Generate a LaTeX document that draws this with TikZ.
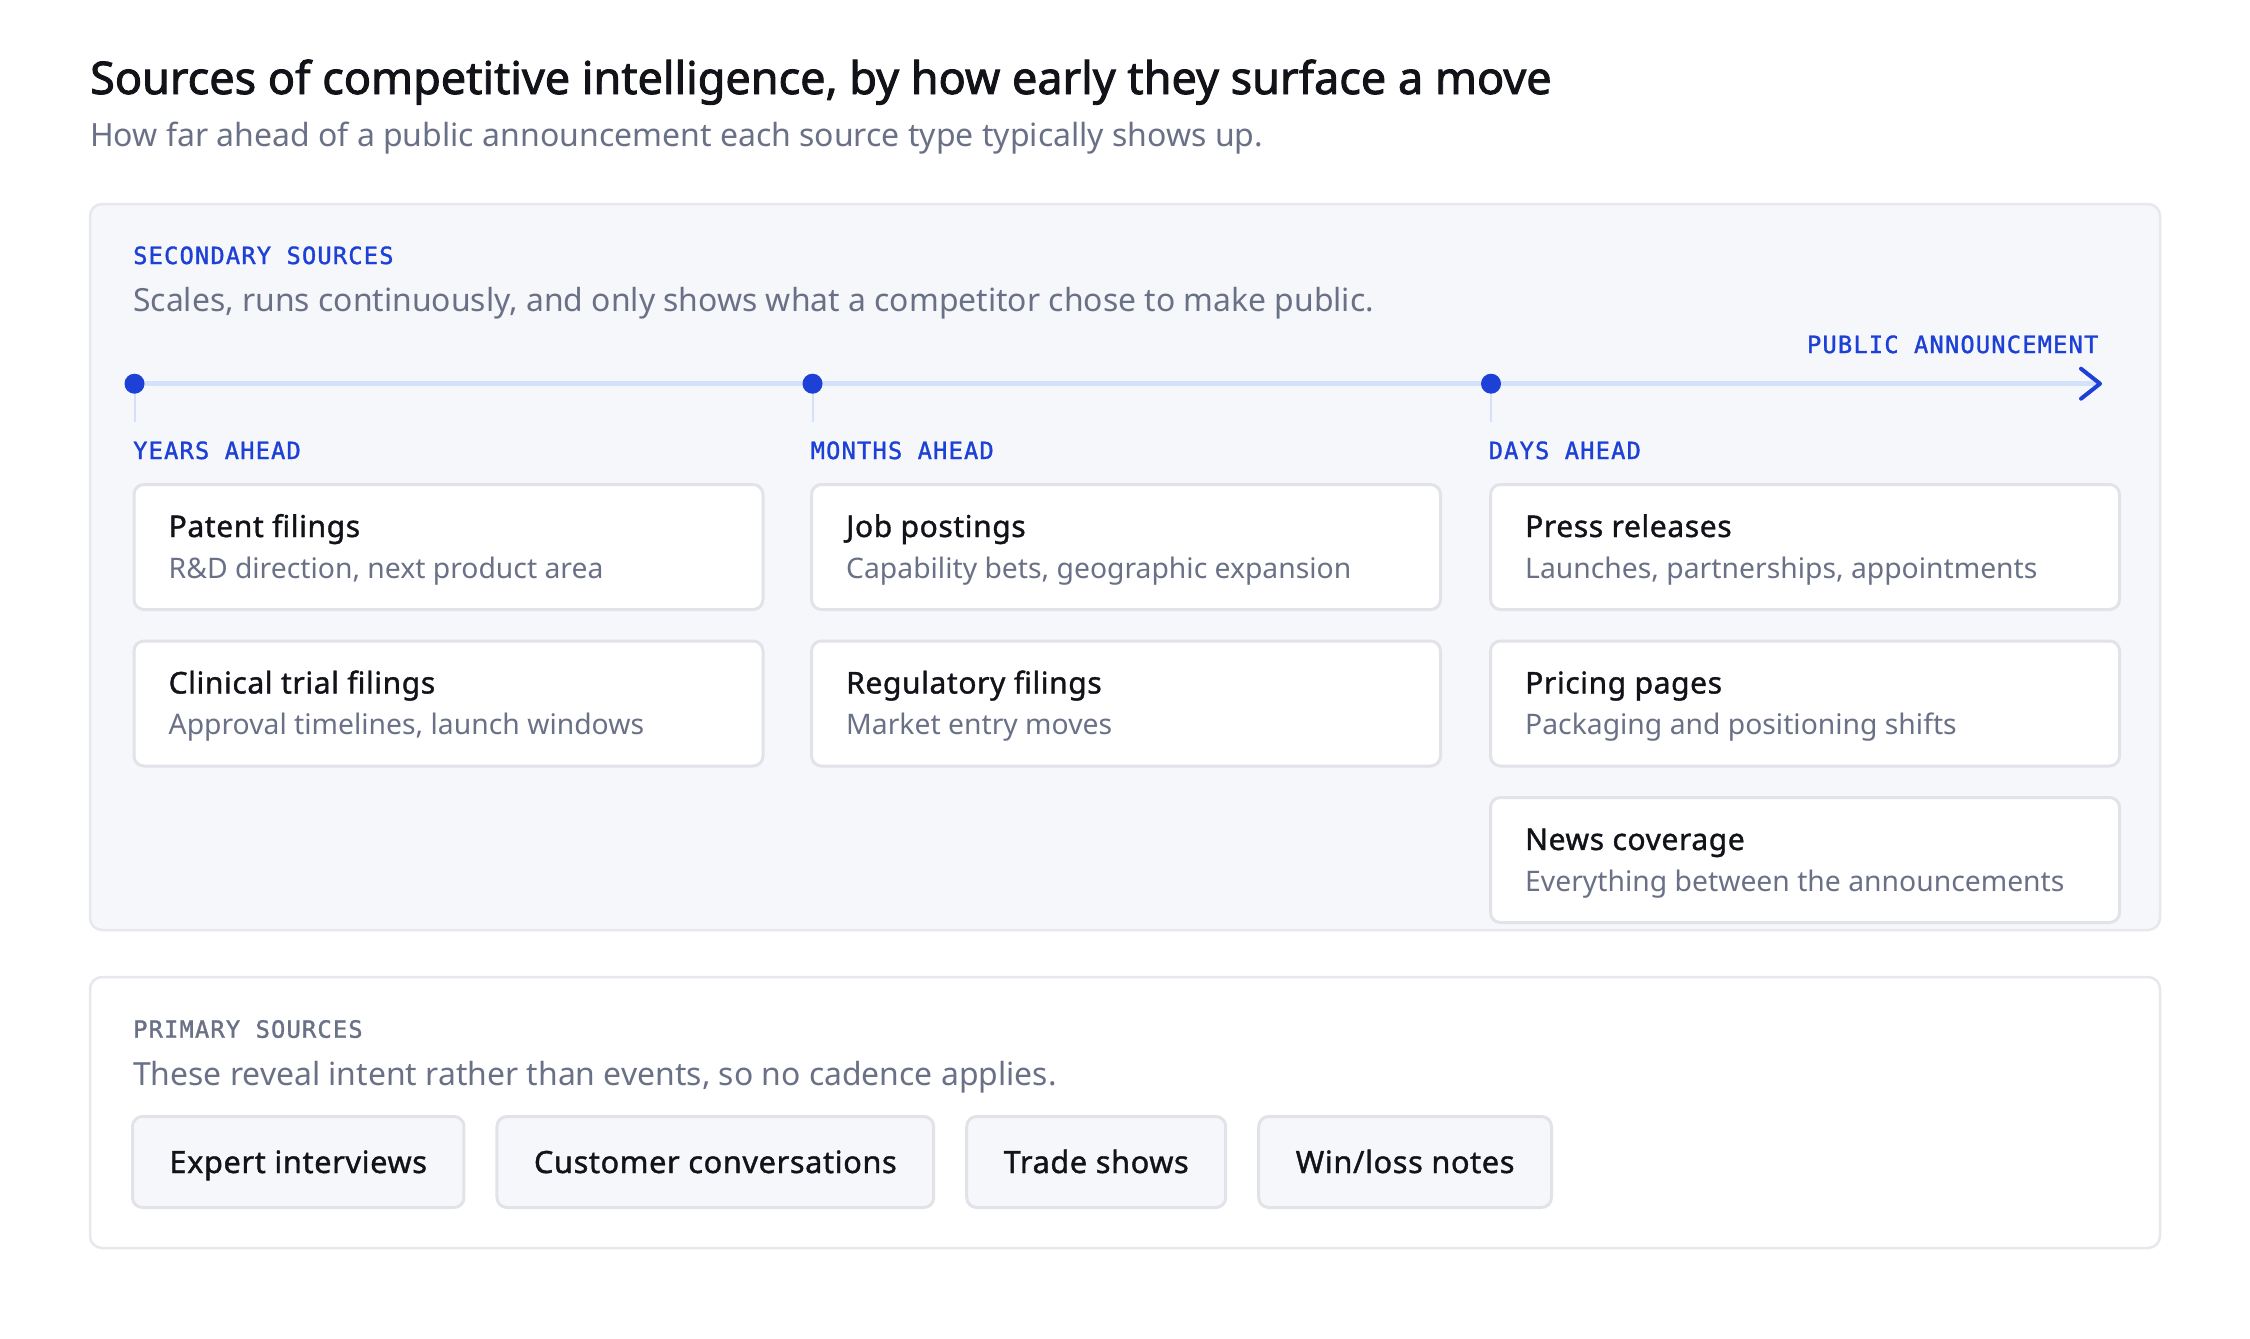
\documentclass[tikz,border=0pt]{standalone}
\usepackage{fontspec}
\usepackage{tikz}
\setmainfont{Noto Sans}
\newfontfamily\headfont[FakeBold=2]{Noto Sans}
\newfontfamily\medfont[FakeBold=1.2,LetterSpace=2]{Noto Sans}
\newfontfamily\monofont[LetterSpace=5,FakeBold=1.4]{DejaVu Sans Mono}
\usetikzlibrary{positioning}

\definecolor{ink}{HTML}{111318}
\definecolor{slate}{HTML}{6A7187}
\definecolor{accent}{HTML}{1D40D6}
\definecolor{track}{HTML}{D2E2FB}
\definecolor{panelfill}{HTML}{F6F7FB}
\definecolor{panelline}{HTML}{E6E8EE}
\definecolor{cardline}{HTML}{E1E3E9}

\tikzset{panel/.style = {draw=panelline, line width=2.5pt, rounded corners=12pt},
         card/.style = {draw=cardline, fill=white, line width=3pt, rounded corners=10pt,
                        minimum width=629pt, minimum height=125pt, anchor=north west, inner sep=0pt},
         cardtitle/.style = {anchor=base west, inner sep=0pt, text=ink,
                             font=\medfont\fontsize{30}{36}\selectfont},
         cardsub/.style = {anchor=base west, inner sep=0pt, text=slate,
                           font=\fontsize{28.3}{34}\selectfont},
         caps/.style = {anchor=base west, inner sep=0pt, text=accent,
                        font=\monofont\fontsize{23.7}{28}\selectfont},
         note/.style = {anchor=base west, inner sep=0pt, text=slate,
                        font=\fontsize{31.9}{38}\selectfont},
         chip/.style = {draw=cardline, fill=panelfill, line width=3pt, rounded corners=10pt,
                        minimum height=91pt, inner xsep=37pt, text height=22pt, text depth=0pt,
                        text=ink, font=\medfont\fontsize{30.7}{36}\selectfont},
         dot/.style = {circle, fill=accent, inner sep=0pt, minimum size=20pt}}

\begin{document}
\begin{tikzpicture}[x=1pt, y=-1pt]
  \fill[white] (0,0) rectangle (2250,1338);
  \useasboundingbox (0,0) rectangle (2250,1338);

  % heading
  \node[anchor=base west, inner sep=0pt, text=ink, font=\headfont\fontsize{45}{54}\selectfont]
    (title) at (90,94) {Sources of competitive intelligence, by how early they surface a move};
  \node[note, font=\fontsize{32}{38}\selectfont] (subtitle) at (90,146)
    {How far ahead of a public announcement each source type typically shows up.};

  % secondary sources
  \draw[panel, fill=panelfill] (90,204) rectangle (2160,930);
  \node[caps] (seclabel) at (133,264) {SECONDARY SOURCES};
  \node[note] (secnote) at (133,311.5)
    {Scales, runs continuously, and only shows what a competitor chose to make public.};

  % timeline
  \coordinate (years) at (134.5,383.7);
  \coordinate (months) at (812.5,383.7);
  \coordinate (days) at (1491,383.7);
  \coordinate (public) at (2100,383.7);
  \draw[track, line width=4.5pt] (years) -- (public);
  \foreach \t in {years,months,days} {
    \draw[track, line width=2pt] (\t) -- ++(0,38.5);
    \node[dot] (\t-dot) at (\t) {};
  }
  \draw[accent, line width=4pt, line cap=round, line join=round]
    ([shift={(-19,-15)}]public) -- (public) -- ([shift={(-19,15)}]public);
  \node[caps, anchor=base east] (publabel) at (2098.5,353) {PUBLIC ANNOUNCEMENT};

  \node[caps] (yearslabel) at (133,459) {YEARS AHEAD};
  \node[caps] (monthslabel) at (810.5,459) {MONTHS AHEAD};
  \node[caps] (dayslabel) at (1488.5,459) {DAYS AHEAD};

  % source cards
  \foreach \name/\col/\row/\head/\desc in {
      patent/132.5/483/Patent filings/{R\&D direction, next product area},
      trial/132.5/639.5/Clinical trial filings/{Approval timelines, launch windows},
      jobs/810/483/Job postings/{Capability bets, geographic expansion},
      regulatory/810/639.5/Regulatory filings/{Market entry moves},
      press/1489/483/Press releases/{Launches, partnerships, appointments},
      pricing/1489/639.5/Pricing pages/{Packaging and positioning shifts},
      news/1489/796/News coverage/{Everything between the announcements}} {
    \node[card] (\name) at (\col,\row) {};
    \node[cardtitle] (\name-head) at ([shift={(36,54)}]\name.north west) {\head};
    \node[cardsub] (\name-desc) at ([shift={(36,95)}]\name.north west) {\desc};
  }

  % primary sources
  \draw[panel, fill=white] (90,977) rectangle (2160,1248);
  \node[caps, text=slate] (primlabel) at (133,1037.7) {PRIMARY SOURCES};
  \node[note] (primnote) at (133,1085)
    {These reveal intent rather than events, so no cadence applies.};

  \node[chip, anchor=north west] (expert) at (131,1115) {Expert interviews};
  \node[chip, right=30pt of expert] (customer) {Customer conversations};
  \node[chip, right=30pt of customer] (trade) {Trade shows};
  \node[chip, right=30pt of trade] (winloss) {Win/loss notes};
\end{tikzpicture}
\end{document}
